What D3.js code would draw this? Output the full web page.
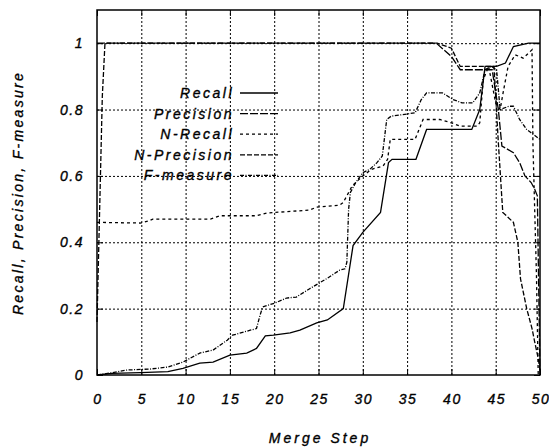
<!DOCTYPE html>
<html>
<head>
<meta charset="utf-8">
<script src="https://cdn.jsdelivr.net/npm/d3@7"></script>
<style>
  body { margin: 0; background: #fff; }
  text { font-family: "Liberation Sans", Arial, sans-serif; font-style: italic; fill: #000; stroke: #000; stroke-width: 0.35px; }
</style>
</head>
<body>
<div id="container"></div>
<script>
// merge step, value pairs
const recall = [[0,0],[1.7,0.005],[4.9,0.007],[8,0.01],[9.7,0.02],[11.6,0.036],[13.1,0.039],[15,0.06],[16.9,0.066],[18,0.08],[19,0.118],[19.9,0.12],[21.8,0.127],[22.9,0.135],[24.8,0.157],[26,0.166],[27.8,0.2],[28.9,0.39],[30,0.43],[32,0.49],[32.9,0.64],[33.3,0.65],[36,0.65],[37.2,0.74],[42.3,0.74],[43.2,0.8],[43.8,0.93],[45.1,0.93],[46.1,0.94],[47,0.99],[48.7,1.0],[50,1.0]];
const precision = [[0,1],[38.3,1],[40,0.96],[41,0.92],[44.6,0.92],[45.3,0.8],[45.7,0.69],[47,0.67],[47.7,0.64],[48.3,0.6],[49,0.58],[49.4,0.56],[49.7,0.54],[50,0]];
const nRecall = [[0,0.46],[4.9,0.458],[5.8,0.464],[6.3,0.47],[12.8,0.47],[13.9,0.48],[18,0.48],[19.2,0.488],[20.1,0.49],[24,0.497],[24.8,0.506],[27.4,0.512],[27.8,0.52],[28.8,0.57],[30,0.6],[31,0.62],[32.3,0.63],[32.8,0.65],[33.1,0.71],[35.9,0.71],[36.8,0.77],[38.7,0.77],[40,0.76],[41,0.75],[42.9,0.75],[43.2,0.76],[43.6,0.89],[44.2,0.93],[45,0.82],[45.5,0.8],[45.9,0.86],[46.4,0.93],[47.2,0.965],[48.1,0.955],[49.1,0.98],[49.2,0.7],[49.6,0.3],[49.8,0]];
const nPrecision = [[0,0.16],[0.3,0.5],[0.6,0.84],[0.9,1],[38.4,1],[40,0.985],[41,0.93],[44.8,0.93],[45.3,0.7],[45.7,0.53],[45.8,0.49],[47,0.46],[47.5,0.4],[47.8,0.29],[48.5,0.2],[49.1,0.14],[49.4,0.1],[49.8,0.05],[50,0.015]];
const fMeasure = [[0,0],[1.5,0.006],[3.4,0.015],[6,0.018],[8,0.024],[9.7,0.039],[11.6,0.066],[13.1,0.075],[14.7,0.105],[15.3,0.12],[17.3,0.135],[18,0.14],[18.4,0.18],[18.7,0.205],[20.1,0.217],[21.4,0.232],[22.5,0.235],[24,0.26],[25.9,0.29],[27.4,0.316],[28,0.32],[28.2,0.34],[28.4,0.5],[28.6,0.55],[29.2,0.58],[30,0.61],[30.8,0.62],[31.6,0.64],[32.2,0.66],[32.7,0.77],[33.2,0.78],[35.9,0.79],[36.6,0.83],[37.2,0.85],[39,0.85],[40.2,0.83],[41.2,0.82],[42.4,0.82],[43.2,0.85],[43.8,0.92],[44.5,0.93],[45.1,0.92],[45.5,0.8],[46.5,0.81],[47,0.81],[47.7,0.77],[48.5,0.74],[49,0.73],[50,0.71]];

const seriesNames = ["Recall", "Precision", "N-Recall", "N-Precision", "F-measure"];
const xTicks = [0, 5, 10, 15, 20, 25, 30, 35, 40, 45, 50];
const yTicks = [0, 0.2, 0.4, 0.6, 0.8, 1];
const yTickLabels = ["0", "0.2", "0.4", "0.6", "0.8", "1"];

const width = 549, height = 448;
const margin = {top: 10, right: 9, bottom: 73, left: 97};
const dashes = [null, "8,2", "3,3", "5,2", "4,1.5,1,1.5"];
const allSeries = [recall, precision, nRecall, nPrecision, fMeasure];

const x = d3.scaleLinear().domain([0, 50]).range([margin.left, width - margin.right]);
const y = d3.scaleLinear().domain([0, 1.1]).range([height - margin.bottom, margin.top]);

const svg = d3.create("svg").attr("width", width).attr("height", height);

// grid
svg.append("g")
    .attr("transform", `translate(0, ${height - margin.bottom})`)
    .call(d3.axisBottom(x).tickValues(xTicks.slice(1, -1)).tickSize(-(height - margin.top - margin.bottom)).tickFormat(""))
    .call(g => g.select(".domain").remove())
    .selectAll("line").attr("stroke", "#000").attr("stroke-dasharray", "2,2");

svg.append("g")
    .attr("transform", `translate(${margin.left}, 0)`)
    .call(d3.axisLeft(y).tickValues(yTicks.slice(1)).tickSize(-(width - margin.left - margin.right)).tickFormat(""))
    .call(g => g.select(".domain").remove())
    .selectAll("line").attr("stroke", "#000").attr("stroke-dasharray", "2,2");

// inward ticks on all four sides
svg.append("g")
    .attr("transform", `translate(${margin.left}, 0)`)
    .call(d3.axisRight(y).tickValues(yTicks).tickSize(6).tickFormat(""))
    .call(g => g.select(".domain").remove());
svg.append("g")
    .attr("transform", `translate(${width - margin.right}, 0)`)
    .call(d3.axisLeft(y).tickValues(yTicks).tickSize(6).tickFormat(""))
    .call(g => g.select(".domain").remove());
svg.append("g")
    .attr("transform", `translate(0, ${height - margin.bottom})`)
    .call(d3.axisTop(x).tickValues(xTicks).tickSize(6).tickFormat(""))
    .call(g => g.select(".domain").remove());
svg.append("g")
    .attr("transform", `translate(0, ${margin.top})`)
    .call(d3.axisBottom(x).tickValues(xTicks).tickSize(6).tickFormat(""))
    .call(g => g.select(".domain").remove());

// tick labels
svg.append("g").selectAll("text")
    .data(yTicks)
    .enter().append("text")
    .attr("x", margin.left - 13)
    .attr("y", d => y(d) + 5)
    .attr("text-anchor", "end")
    .attr("font-size", 14)
    .attr("letter-spacing", 1.5)
    .text((d, i) => yTickLabels[i]);

svg.append("g").selectAll("text")
    .data(xTicks)
    .enter().append("text")
    .attr("x", d => x(d) + 1)
    .attr("y", height - margin.bottom + 29)
    .attr("text-anchor", "middle")
    .attr("font-size", 14)
    .attr("letter-spacing", 1.5)
    .text(d => d);

// lines
const line = d3.line().x(d => x(d[0])).y(d => y(d[1]));
allSeries.forEach((s, i) => {
    svg.append("path")
        .datum(s)
        .attr("fill", "none")
        .attr("stroke", "#000")
        .attr("stroke-width", 1.3)
        .attr("stroke-dasharray", dashes[i])
        .attr("d", line);
});

// frame
svg.append("rect")
    .attr("x", margin.left)
    .attr("y", margin.top)
    .attr("width", width - margin.left - margin.right)
    .attr("height", height - margin.top - margin.bottom)
    .attr("fill", "none")
    .attr("stroke", "#000")
    .attr("stroke-width", 1.5);

// legend
seriesNames.forEach((name, i) => {
    const ly = 93 + i * 20.6;
    svg.append("text")
        .attr("x", 234)
        .attr("y", ly + 5)
        .attr("text-anchor", "end")
        .attr("font-size", 14)
        .attr("letter-spacing", 2.5)
        .text(name);
    svg.append("line")
        .attr("x1", 240).attr("x2", 278)
        .attr("y1", ly).attr("y2", ly)
        .attr("stroke", "#000")
        .attr("stroke-width", 1.3)
        .attr("stroke-dasharray", dashes[i]);
});

// axis titles
svg.append("text")
    .attr("x", 320)
    .attr("y", 443)
    .attr("text-anchor", "middle")
    .attr("font-size", 14)
    .attr("letter-spacing", 3)
    .text("Merge Step");

svg.append("text")
    .attr("transform", "rotate(-90)")
    .attr("x", -193)
    .attr("y", 23)
    .attr("text-anchor", "middle")
    .attr("font-size", 14)
    .attr("letter-spacing", 2.3)
    .text("Recall, Precision, F-measure");

document.getElementById("container").append(svg.node());
</script>
</body>
</html>
